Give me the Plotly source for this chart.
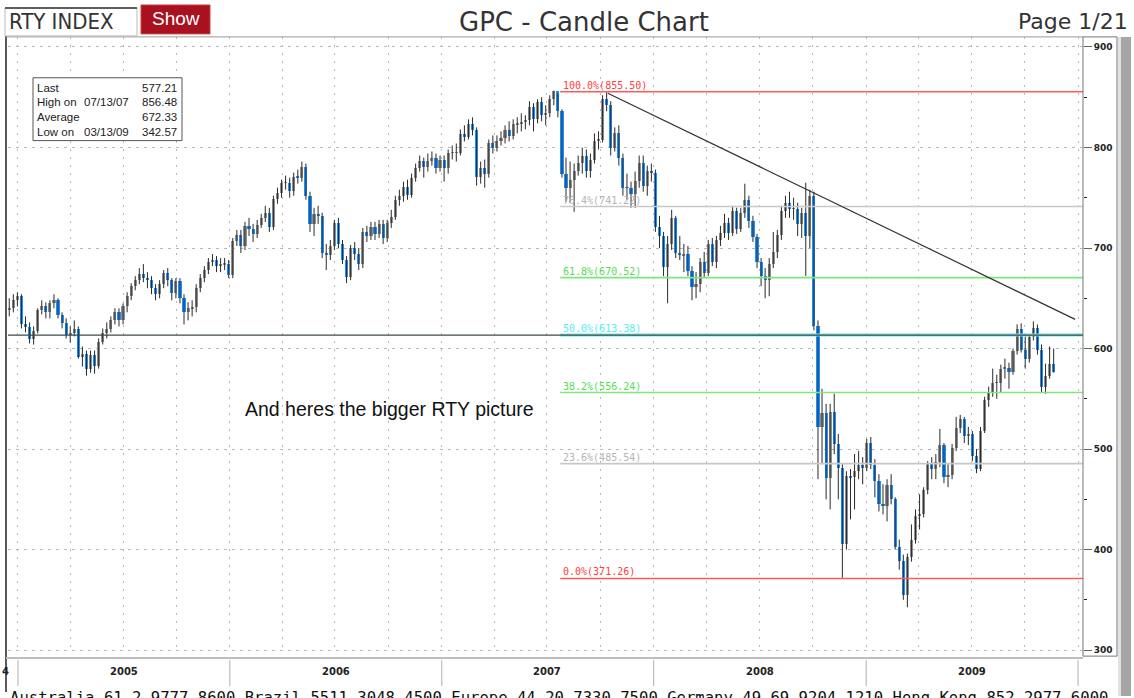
import pandas as pd
import plotly.graph_objects as go

# ---------------- data (weekly candles, RTY index) ----------------
week_start = "2004-12-17"   # first weekly bar (Fridays)

week_open = [
    # 2004
    638, 640, 648,
    # 2005
    652, 625, 622, 610, 618, 638, 642, 636, 645, 648, 633, 626, 614, 616, 620, 592, 595, 580, 594, 583,
    607, 616, 620, 628, 636, 628, 642, 652, 662, 668, 674, 670, 668, 660, 654, 664, 675, 668, 655, 667,
    650, 636, 640, 641, 660, 670, 678, 686, 688, 682, 684, 684,
    # 2006
    673, 707, 713, 702, 722, 719, 714, 723, 730, 735, 721, 749, 755, 765, 765, 757, 771, 770, 781, 752,
    724, 734, 732, 695, 693, 702, 725, 704, 688, 671, 700, 694, 684, 716, 712, 721, 714, 724, 710, 725,
    731, 748, 752, 761, 753, 770, 780, 787, 781, 787, 790, 780,
    # 2007
    788, 780, 795, 795, 795, 814, 811, 823, 817, 771, 780, 774, 805, 800, 807, 810, 817, 812, 823, 823,
    825, 827, 840, 828, 845, 832, 834, 848, 856, 836, 774, 760, 768, 777, 785, 792, 777, 788, 807, 808,
    848, 842, 800, 815, 790, 760, 760, 754, 767, 785, 762, 777,
    # 2008
    775, 721, 712, 681, 704, 730, 695, 693, 694, 677, 661, 664, 686, 675, 704, 686, 708, 715, 725, 715,
    737, 719, 735, 748, 727, 711, 686, 672, 668, 684, 696, 713, 737, 745, 739, 739, 724, 735, 712, 752,
    623, 522, 536, 471, 537, 505, 481, 406, 473, 472, 478, 484,
    # 2009
    481, 506, 484, 468, 445, 443, 464, 450, 403, 389, 355, 393, 410, 434, 436, 459, 485, 480, 487, 504,
    472, 474, 501, 521, 530, 513, 515, 493, 480, 518, 549, 557, 566, 566, 580, 581, 577, 598, 620, 599,
    590, 612, 621, 599, 562, 573, 585,
]

week_high = [
    # 2004
    650, 654, 656,
    # 2005
    654, 632, 626, 622, 640, 648, 646, 648, 654, 650, 636, 630, 622, 628, 622, 602, 598, 598, 598, 610,
    620, 626, 632, 640, 640, 645, 656, 665, 672, 680, 684, 676, 672, 664, 668, 678, 680, 670, 670, 670,
    654, 646, 648, 664, 674, 682, 690, 694, 692, 690, 690, 688,
    # 2006
    710, 718, 718, 726, 730, 724, 728, 734, 742, 740, 752, 760, 768, 772, 770, 775, 778, 786, 784, 756,
    740, 742, 735, 704, 708, 728, 730, 708, 692, 703, 706, 700, 720, 722, 726, 726, 728, 728, 728, 738,
    752, 758, 766, 768, 774, 784, 792, 790, 794, 796, 794, 792,
    # 2007
    792, 798, 802, 804, 818, 822, 828, 830, 820, 786, 788, 808, 812, 812, 816, 822, 826, 828, 830, 834,
    832, 846, 844, 848, 850, 842, 852, 856.48, 854, 838, 790, 786, 784, 792, 800, 798, 794, 814, 816, 852,
    855, 846, 820, 822, 794, 774, 766, 776, 792, 792, 782, 784,
    # 2008
    778, 732, 716, 712, 738, 732, 712, 704, 702, 682, 676, 690, 696, 708, 710, 712, 722, 734, 730, 742,
    740, 740, 764, 752, 732, 714, 690, 680, 690, 716, 718, 742, 752, 756, 750, 745, 740, 765, 758, 756,
    628, 560, 545, 545, 555, 515, 485, 478, 480, 495, 498, 492,
    # 2009
    510, 512, 490, 475, 465, 470, 475, 452, 410, 395, 396, 425, 440, 455, 462, 488, 492, 495, 520, 506,
    485, 505, 532, 534, 532, 522, 518, 500, 522, 552, 562, 580, 574, 584, 590, 586, 600, 624, 625, 612,
    614, 627, 624, 604, 585, 602, 600,
]

week_low = [
    # 2004
    632, 636, 642,
    # 2005
    620, 616, 605, 604, 615, 634, 630, 630, 640, 630, 620, 610, 606, 612, 590, 582, 573, 576, 575, 580,
    604, 610, 616, 624, 622, 624, 636, 648, 658, 664, 666, 660, 654, 648, 650, 660, 662, 648, 650, 645,
    624, 628, 632, 636, 656, 666, 674, 682, 676, 676, 678, 670,
    # 2006
    670, 702, 695, 698, 712, 706, 710, 720, 726, 716, 718, 744, 750, 758, 750, 752, 764, 766, 748, 716,
    712, 724, 690, 678, 688, 698, 700, 684, 665, 668, 688, 678, 680, 706, 708, 708, 710, 704, 706, 720,
    728, 742, 746, 748, 750, 766, 776, 770, 776, 782, 774, 776,
    # 2007
    766, 774, 788, 786, 792, 806, 808, 812, 762, 764, 760, 770, 794, 796, 802, 804, 806, 808, 814, 816,
    818, 822, 816, 824, 826, 822, 830, 842, 830, 770, 746, 745, 736, 772, 774, 770, 770, 784, 798, 805,
    836, 792, 796, 782, 752, 748, 740, 740, 760, 756, 752, 766,
    # 2008
    716, 700, 672, 645, 698, 690, 688, 676, 672, 648, 650, 656, 670, 672, 682, 680, 702, 710, 708, 712,
    714, 716, 730, 720, 706, 680, 662, 650, 652, 680, 690, 708, 730, 730, 728, 712, 710, 672, 700, 618,
    470, 485, 450, 440, 495, 450, 372, 400, 430, 440, 470, 465,
    # 2009
    478, 480, 452, 438, 435, 428, 445, 400, 380, 350, 342.57, 388, 406, 420, 432, 455, 470, 470, 482, 466,
    462, 470, 498, 516, 506, 504, 488, 476, 478, 516, 542, 552, 550, 556, 570, 560, 574, 594, 596, 580,
    586, 608, 594, 556, 555, 570, 576,
]

week_close = [
    # 2004
    640, 648, 652,
    # 2005
    625, 622, 610, 618, 638, 642, 636, 645, 648, 633, 626, 614, 616, 620, 592, 595, 580, 594, 583, 607,
    616, 620, 628, 636, 628, 642, 652, 662, 668, 674, 670, 668, 660, 654, 664, 675, 668, 655, 667, 650,
    636, 640, 641, 660, 670, 678, 686, 688, 682, 684, 684, 673,
    # 2006
    707, 713, 702, 722, 719, 714, 723, 730, 735, 721, 749, 755, 765, 765, 757, 771, 770, 781, 752, 724,
    734, 732, 695, 693, 702, 725, 704, 688, 671, 700, 694, 684, 716, 712, 721, 714, 724, 710, 725, 731,
    748, 752, 761, 753, 770, 780, 787, 781, 787, 790, 780, 788,
    # 2007
    780, 795, 795, 795, 814, 811, 823, 817, 771, 780, 774, 805, 800, 807, 810, 817, 812, 823, 823, 825,
    827, 840, 828, 845, 832, 834, 848, 856, 836, 774, 760, 768, 777, 785, 792, 777, 788, 807, 808, 848,
    842, 800, 815, 790, 760, 760, 754, 767, 785, 762, 777, 775,
    # 2008
    721, 712, 681, 704, 730, 695, 693, 694, 677, 661, 664, 686, 675, 704, 686, 708, 715, 725, 715, 737,
    719, 735, 748, 727, 711, 686, 672, 668, 684, 696, 713, 737, 745, 739, 739, 724, 735, 712, 752, 623,
    522, 536, 471, 537, 505, 481, 406, 473, 472, 478, 484, 481,
    # 2009
    506, 484, 468, 445, 443, 464, 450, 403, 389, 355, 393, 410, 434, 436, 459, 485, 480, 487, 504, 472,
    474, 501, 521, 530, 513, 515, 493, 480, 518, 549, 557, 566, 566, 580, 581, 577, 598, 620, 599, 590,
    612, 621, 599, 562, 573, 585, 577.21,
]

fib_pct = ["100.0%", "76.4%", "61.8%", "50.0%", "38.2%", "23.6%", "0.0%"]
fib_level = [855.50, 741.22, 670.52, 613.38, 556.24, 485.54, 371.26]
fib_color = ["#ff5a5a", "#c8c8c8", "#7ce87c", "#6ee8e8", "#7ce87c", "#c8c8c8", "#ff5a5a"]
fib_text_color = ["#ff4040", "#b4b4b4", "#55dd55", "#55eeee", "#55dd55", "#b4b4b4", "#ff4040"]
fib_start = "2007-07-24"

trend_dates = ["2007-10-14", "2009-12-27"]
trend_values = [854.0, 629.0]

stat_labels = ["Last", "High on", "Average", "Low on"]
stat_dates = ["", "07/13/07", "", "03/13/09"]
stat_values = ["577.21", "856.48", "672.33", "342.57"]

year_labels = ["2005", "2006", "2007", "2008", "2009"]
y_ticks = [300, 400, 500, 600, 700, 800, 900]

# ---------------- helpers ----------------
W, H = 1134, 698
def px(x):
    return x / W
def py(y):
    return 1 - y / H

dates = pd.date_range(week_start, periods=len(week_close), freq="7D")

fig = go.Figure()

# wicks
wx, wy = [], []
for d, lo, hi in zip(dates, week_low, week_high):
    wx += [d, d, None]
    wy += [lo, hi, None]
fig.add_trace(go.Scatter(x=wx, y=wy, mode="lines", line=dict(color="#2a2a2a", width=1),
                         hoverinfo="skip", showlegend=False))

# bodies
body_base = [min(o, c) for o, c in zip(week_open, week_close)]
body_len = [max(abs(c - o), 0.6) for o, c in zip(week_open, week_close)]
body_col = ["#1e8fff" if c < o else "#8f8f8f" for o, c in zip(week_open, week_close)]
fig.add_trace(go.Bar(x=dates, y=body_len, base=body_base, width=5.4 * 86400000,
                     marker=dict(color=body_col, line=dict(width=0)),
                     hoverinfo="skip", showlegend=False))

x_end = "2010-01-09 12:00"
shapes = []
for pct, lvl, col in zip(fib_pct, fib_level, fib_color):
    shapes.append(dict(type="line", xref="x", yref="y", x0=fib_start, x1=x_end, y0=lvl, y1=lvl,
                       line=dict(color=col, width=3 if pct == "50.0%" else 1.6), layer="above"))
shapes.append(dict(type="line", xref="paper", yref="y", x0=px(8), x1=px(1083), y0=613.38, y1=613.38,
                   line=dict(color="#3c4a4a", width=1.2), layer="above"))
shapes.append(dict(type="line", xref="x", yref="y", x0=trend_dates[0], x1=trend_dates[1],
                   y0=trend_values[0], y1=trend_values[1], line=dict(color="#333333", width=1.2), layer="above"))

shapes += [
    dict(type="line", xref="paper", yref="paper", x0=px(6), x1=px(6), y0=py(8), y1=py(694),
         line=dict(color="#222", width=1.5)),
    dict(type="line", xref="paper", yref="paper", x0=px(6), x1=px(1083), y0=py(37), y1=py(37),
         line=dict(color="#9a9a9a", width=1)),
    dict(type="rect", xref="paper", yref="paper", x0=px(1083), x1=px(1117), y0=py(37), y1=py(658),
         line=dict(color="#777", width=1)),
    dict(type="rect", xref="paper", yref="paper", x0=px(1118), x1=px(1121), y0=py(37), y1=py(698),
         fillcolor="#e2e2e2", line=dict(width=0)),
    dict(type="rect", xref="paper", yref="paper", x0=px(1121), x1=px(1131), y0=py(37), y1=py(698),
         fillcolor="#a6a6a6", line=dict(width=0)),
    dict(type="line", xref="paper", yref="paper", x0=px(6), x1=px(1083), y0=py(660), y1=py(660),
         line=dict(color="#bdbdbd", width=2)),
    dict(type="rect", xref="paper", yref="paper", x0=px(5), x1=px(137), y0=py(36), y1=py(8),
         fillcolor="white", line=dict(color="#bbb", width=1)),
    dict(type="line", xref="paper", yref="paper", x0=px(5), x1=px(137), y0=py(8), y1=py(8),
         line=dict(color="#333", width=1.5)),
    dict(type="rect", xref="paper", yref="paper", x0=px(141), x1=px(210), y0=py(34), y1=py(5),
         fillcolor="#a8111f", line=dict(color="#d04040", width=1)),
    dict(type="rect", xref="paper", yref="paper", x0=px(33), x1=px(182), y0=py(141), y1=py(78),
         fillcolor="white", line=dict(color="#555", width=1), layer="above"),
]
for yr in ["2005", "2006", "2007", "2008", "2009", "2010"]:
    shapes.append(dict(type="line", xref="x", yref="paper", x0=yr + "-01-01", x1=yr + "-01-01",
                       y0=py(662), y1=py(688), line=dict(color="#b0b0b0", width=1)))

ann = []
for pct, lvl, tc in zip(fib_pct, fib_level, fib_text_color):
    ann.append(dict(x=fib_start, y=lvl, xref="x", yref="y", text=f"{pct}({lvl:.2f})", showarrow=False,
                    xanchor="left", yanchor="bottom", xshift=1, yshift=-1,
                    font=dict(family="DejaVu Sans Mono", size=10, color=tc)))
for i, (lab, dt, val) in enumerate(zip(stat_labels, stat_dates, stat_values)):
    yy = py(88 + i * 14.7)
    ann.append(dict(x=px(35), y=yy, xref="paper", yref="paper", text=lab, showarrow=False,
                    xanchor="left", yanchor="middle", font=dict(family="Liberation Sans", size=11.5, color="#222")))
    if dt:
        ann.append(dict(x=px(82), y=yy, xref="paper", yref="paper", text=dt, showarrow=False,
                        xanchor="left", yanchor="middle", font=dict(family="Liberation Sans", size=11.5, color="#222")))
    ann.append(dict(x=px(179), y=yy, xref="paper", yref="paper", text=val, showarrow=False,
                    xanchor="right", yanchor="middle", font=dict(family="Liberation Sans", size=11.5, color="#222")))
for yr in year_labels:
    ann.append(dict(x=yr + "-07-02", y=py(673), xref="x", yref="paper", text=f"<b>{yr}</b>", showarrow=False,
                    xanchor="center", yanchor="middle", font=dict(family="DejaVu Sans", size=10, color="#222")))
ann.append(dict(x=px(0), y=py(673), xref="paper", yref="paper", text="<b>4</b>", showarrow=False,
                xanchor="left", yanchor="middle", font=dict(family="DejaVu Sans", size=10, color="#222")))
ann += [
    dict(x=px(7), y=py(22), xref="paper", yref="paper", text="RTY INDEX", showarrow=False,
         xanchor="left", yanchor="middle", font=dict(family="DejaVu Sans Condensed", size=22, color="#333")),
    dict(x=px(176), y=py(19), xref="paper", yref="paper", text="Show", showarrow=False,
         xanchor="center", yanchor="middle", font=dict(family="Liberation Sans", size=19, color="white")),
    dict(x=px(584), y=py(22), xref="paper", yref="paper", text="GPC - Candle Chart", showarrow=False,
         xanchor="center", yanchor="middle", font=dict(family="DejaVu Sans", size=26, color="#333")),
    dict(x=px(1130), y=py(22), xref="paper", yref="paper", text="Page 1/21", showarrow=False,
         xanchor="right", yanchor="middle", font=dict(family="DejaVu Sans", size=22, color="#333")),
    dict(x=px(243), y=py(410), xref="paper", yref="paper", text="And heres the bigger RTY picture", showarrow=False,
         xanchor="left", yanchor="middle", font=dict(family="Liberation Sans", size=19.5, color="#111")),
    dict(x=px(8), y=py(688.5), xref="paper", yref="paper",
         text="Australia 61 2 9777 8600 Brazil 5511 3048 4500 Europe 44 20 7330 7500 Germany 49 69 9204 1210 Hong Kong 852 2977 6000",
         showarrow=False, xanchor="left", yanchor="top",
         font=dict(family="DejaVu Sans Mono", size=15.6, color="#111")),
]

fig.update_layout(
    width=W, height=H, margin=dict(l=0, r=0, t=0, b=0),
    paper_bgcolor="white", plot_bgcolor="white", showlegend=False, bargap=0,
    shapes=shapes, annotations=ann,
    xaxis=dict(type="date", domain=[px(8), px(1083)], range=["2004-12-14 20:00", x_end],
               showgrid=True, gridcolor="#b8b8b8", griddash="2px,6px", gridwidth=1,
               dtick="M3", tick0="2005-01-01", showticklabels=False, ticks="", zeroline=False,
               showline=False, fixedrange=True),
    yaxis=dict(side="right", domain=[py(655), py(37)], range=[297, 910],
               tickvals=y_ticks, ticktext=[f"<b>{v}</b>" for v in y_ticks],
               tickfont=dict(family="DejaVu Sans", size=9, color="#222"),
               ticks="outside", ticklen=8, tickcolor="#666", tickwidth=1,
               minor=dict(dtick=50, ticks="outside", ticklen=3, tickcolor="#222", showgrid=False),
               showgrid=True, gridcolor="#b8b8b8", griddash="3px,5px", gridwidth=1,
               zeroline=False, showline=False, fixedrange=True),
)

fig.write_html("out.html", config={"displayModeBar": False},
               post_script="document.body.style.margin='0px';document.body.style.overflow='hidden';")
